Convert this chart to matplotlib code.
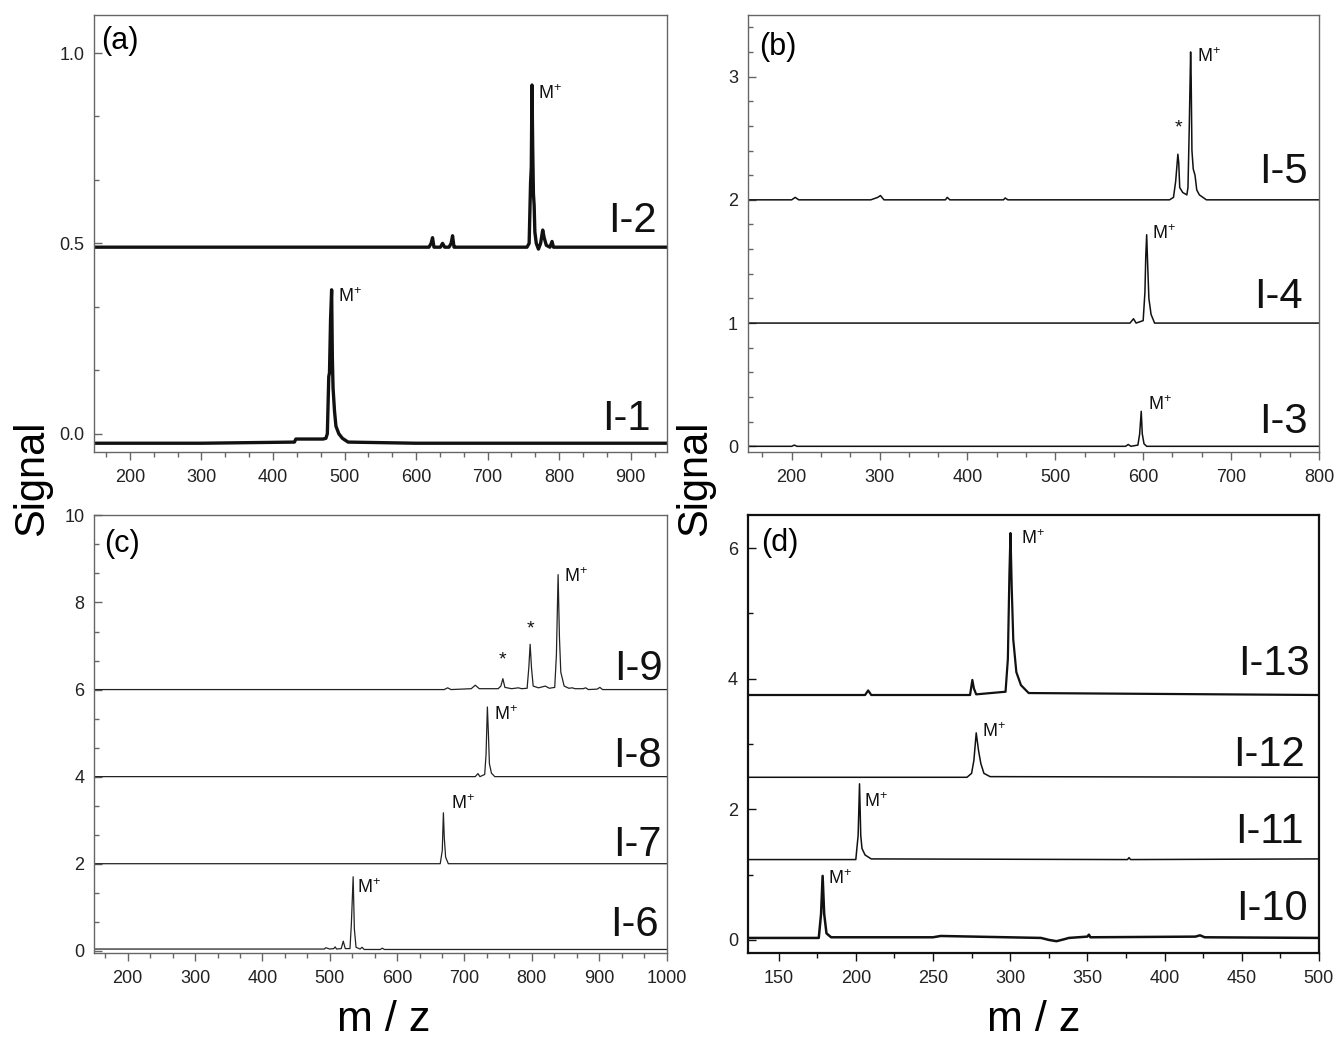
import matplotlib
matplotlib.use("Agg")
import matplotlib.pyplot as plt
from matplotlib.ticker import MultipleLocator, AutoMinorLocator, FormatStrFormatter

plt.rcParams['font.family'] = ['Liberation Sans', 'DejaVu Sans']
plt.rcParams['mathtext.default'] = 'regular'

# ---- panel (a) ----
a_i1_x = [150, 300, 430, 432, 470, 474, 476, 478, 479, 480.5, 482, 483, 484, 486, 488, 492, 497, 505, 600, 950]
a_i1_y = [-0.025, -0.025, -0.022, -0.014, -0.014, -0.012, 0.0, 0.15, 0.16, 0.30, 0.378, 0.2, 0.12, 0.06, 0.02, 0.0, -0.012, -0.022, -0.025, -0.025]
a_i2_x = [150, 618, 621, 623, 625, 634, 637, 640, 646, 649, 651, 653, 656, 755, 758, 760, 761, 762, 763, 764, 765,
          766, 768, 771, 774, 777, 779, 782, 787, 790, 792, 800, 950]
a_i2_y = [0.49, 0.49, 0.50, 0.515, 0.49, 0.49, 0.50, 0.49, 0.49, 0.50, 0.52, 0.49, 0.49, 0.49, 0.50, 0.66, 0.70, 0.916,
          0.75, 0.63, 0.60, 0.53, 0.50, 0.485, 0.50, 0.535, 0.515, 0.495, 0.49, 0.505, 0.49, 0.49, 0.49]

# ---- panel (b) ----
b_i3_x = [150, 200, 203, 206, 580, 583, 586, 594, 596, 597.8, 599, 601, 604, 800]
b_i3_y = [0, 0, 0.01, 0, 0, 0.015, 0, 0.01, 0.1, 0.284, 0.1, 0.02, 0, 0]
b_i4_x = [150, 585, 589, 592, 600, 602, 603, 604, 605, 606.5, 609, 613, 800]
b_i4_y = [1, 1, 1.035, 1, 1.02, 1.25, 1.55, 1.717, 1.5, 1.2, 1.07, 1.0, 1.0]
b_i5_x = [150, 200, 204, 208, 290, 298, 301, 305, 375, 377, 380, 441, 443, 446, 630, 634.5, 637, 639.5, 640.5,
          641.6, 645, 649.7, 651, 652.5, 653.5, 654, 654.6, 655.5, 657, 659, 661, 664, 672, 800]
b_i5_y = [2.0, 2.0, 2.02, 2.0, 2.0, 2.02, 2.035, 2.0, 2.0, 2.02, 2.0, 2.0, 2.015, 2.0, 2.0, 2.02, 2.15, 2.37, 2.3,
          2.1, 2.06, 2.04, 2.1, 2.6, 3.0, 3.2, 3.0, 2.4, 2.25, 2.2, 2.08, 2.04, 2.0, 2.0]

# ---- panel (c) ----
c_i6_x = [150, 480, 492, 494, 500, 506, 508, 510, 517, 520, 523, 530, 532, 534.7, 536.5, 539, 545, 548, 551, 575,
          578, 581, 1000]
c_i6_y = [0.04, 0.04, 0.04, 0.07, 0.04, 0.05, 0.09, 0.04, 0.05, 0.22, 0.05, 0.05, 0.6, 1.7, 0.5, 0.08, 0.04, 0.08,
          0.03, 0.03, 0.06, 0.03, 0.03]
c_i7_x = [150, 664, 667, 668.7, 670, 672, 676, 1000]
c_i7_y = [2, 2, 2.3, 3.17, 2.6, 2.15, 2.0, 2.0]
c_i8_x = [150, 716, 720, 723, 730, 732, 734, 735.5, 737, 740, 745, 1000]
c_i8_y = [4, 4, 4.07, 4, 4.05, 4.5, 5.6, 5.0, 4.3, 4.08, 4.0, 4.0]
c_i9_x = [150, 670, 675, 680, 710, 716, 722, 750, 754, 757, 760, 770, 780, 785, 793, 795.5, 797.5, 799.5, 802, 810,
          820, 826, 834, 836.5, 839, 841, 843, 848, 855, 860, 864, 876, 880, 884, 897, 901, 905, 1000]
c_i9_y = [6, 6, 6.04, 6, 6.02, 6.1, 6.02, 6.02, 6.08, 6.25, 6.05, 6.02, 6.04, 6.02, 6.03, 6.5, 7.04, 6.5, 6.08, 6.04,
          6.08, 6.03, 6.05, 6.8, 8.64, 7.2, 6.4, 6.08, 6.03, 6.04, 6.02, 6.02, 6.04, 6.0, 6.01, 6.05, 6.0, 6.0]

# ---- panel (d) ----
d_i10_x = [130, 176, 177.5, 178.5, 179.5, 181, 184, 250, 255, 320, 325, 330, 335, 338, 350, 351, 352, 420, 423, 426, 500]
d_i10_y = [0.03, 0.03, 0.4, 0.98, 0.4, 0.1, 0.04, 0.04, 0.06, 0.03, 0.0, -0.02, 0.01, 0.03, 0.05, 0.08, 0.04, 0.05,
           0.07, 0.04, 0.03]
d_i11_x = [130, 200, 201.5, 202.4, 203.2, 204, 206, 210, 376, 377, 378, 500]
d_i11_y = [1.23, 1.23, 1.6, 2.39, 1.6, 1.4, 1.3, 1.24, 1.23, 1.26, 1.23, 1.24]
d_i12_x = [130, 272, 275, 276.5, 278, 279.5, 281, 283, 287, 500]
d_i12_y = [2.49, 2.49, 2.55, 2.75, 3.17, 2.9, 2.7, 2.55, 2.5, 2.49]
d_i13_x = [130, 206, 208, 210, 274, 275.5, 276.5, 278, 297, 298.5, 299.5, 300.2, 301, 302, 304, 307, 312, 500]
d_i13_y = [3.75, 3.75, 3.82, 3.75, 3.75, 3.98, 3.85, 3.76, 3.8, 4.3, 5.6, 6.23, 5.4, 4.6, 4.1, 3.9, 3.78, 3.75]

# labels: (text, x_right, baseline)
a_names = [("I-2", 937, 0.53), ("I-1", 928, 0.01)]
a_mplus = [(771, 0.88), (491, 0.346)]
b_names = [("I-5", 787, 2.135), ("I-4", 782, 1.12), ("I-3", 787, 0.108)]
b_mplus = [(661, 3.12), (610.6, 1.68), (605, 0.297)]
b_stars = [(640.6, 2.58)]
c_names = [("I-9", 995, 6.22), ("I-8", 992, 4.22), ("I-7", 992, 2.17), ("I-6", 989, 0.35)]
c_mplus = [(848.5, 8.46), (744, 5.29), (679.7, 3.25), (541, 1.33)]
c_stars = [(757, 6.67), (797.6, 7.4)]
d_names = [("I-13", 494, 4.06), ("I-12", 491, 2.67), ("I-11", 490, 1.48), ("I-10", 493, 0.3)]
d_mplus = [(307, 6.07), (281.8, 3.1), (205.4, 2.04), (182.3, 0.86)]

fig = plt.figure(figsize=(13.36, 10.4), dpi=100)
ax_a = fig.add_axes([0.0704, 0.5654, 0.4285, 0.4202])
ax_b = fig.add_axes([0.5597, 0.5654, 0.4275, 0.4202])
ax_c = fig.add_axes([0.0704, 0.0837, 0.4285, 0.4207])
ax_d = fig.add_axes([0.5597, 0.0837, 0.4275, 0.4207])


def setup(ax, xlim, ylim, xstep, xminor, ystep, yminor, frame_col, frame_lw, yfmt=None):
    ax.set_xlim(*xlim)
    ax.set_ylim(*ylim)
    ax.xaxis.set_major_locator(MultipleLocator(xstep))
    ax.xaxis.set_minor_locator(AutoMinorLocator(xminor))
    ax.yaxis.set_major_locator(MultipleLocator(ystep))
    ax.yaxis.set_minor_locator(AutoMinorLocator(yminor))
    if yfmt:
        ax.yaxis.set_major_formatter(FormatStrFormatter(yfmt))
    for s in ax.spines.values():
        s.set_color(frame_col)
        s.set_linewidth(frame_lw)
    ax.tick_params(axis='x', which='both', direction='out', colors=frame_col, labelcolor='#222222',
                   labelsize=13, pad=6)
    ax.tick_params(axis='y', which='both', direction='in', colors=frame_col, labelcolor='#222222',
                   labelsize=13, pad=7)
    ax.tick_params(which='major', length=6, width=1)
    ax.tick_params(which='minor', length=3.5, width=1)


def labels(ax, names, mplus, stars=()):
    for name, xr, yb in names:
        ax.text(xr, yb, name, ha='right', va='baseline', fontsize=30, color='#111111')
    for xm, ym in mplus:
        ax.text(xm, ym, r'M$^{+}$', ha='left', va='baseline', fontsize=13, color='#111111')
    for xs, ys in stars:
        ax.text(xs, ys, '*', ha='center', va='center', fontsize=14, color='#111111')


# (a)
ax_a.plot(a_i2_x, a_i2_y, color='#111111', lw=2.4)
ax_a.plot(a_i1_x, a_i1_y, color='#111111', lw=2.4)
setup(ax_a, (150, 950), (-0.048, 1.10), 100, 3, 0.5, 3, '#666666', 1.0, '%.1f')
labels(ax_a, a_names, a_mplus)
ax_a.text(0.013, 0.975, '(a)', transform=ax_a.transAxes, ha='left', va='top', fontsize=22)

# (b)
for xs, ys in [(b_i5_x, b_i5_y), (b_i4_x, b_i4_y), (b_i3_x, b_i3_y)]:
    ax_b.plot(xs, ys, color='#111111', lw=1.1)
setup(ax_b, (150, 800), (-0.046, 3.5), 100, 3, 1, 5, '#666666', 1.0)
labels(ax_b, b_names, b_mplus, b_stars)
ax_b.text(0.02, 0.962, '(b)', transform=ax_b.transAxes, ha='left', va='top', fontsize=22)

# (c)
for xs, ys in [(c_i9_x, c_i9_y), (c_i8_x, c_i8_y), (c_i7_x, c_i7_y), (c_i6_x, c_i6_y)]:
    ax_c.plot(xs, ys, color='#222222', lw=0.9)
setup(ax_c, (150, 1000), (-0.05, 10), 100, 3, 2, 3, '#666666', 1.0)
labels(ax_c, c_names, c_mplus, c_stars)
ax_c.text(0.017, 0.97, '(c)', transform=ax_c.transAxes, ha='left', va='top', fontsize=22)

# (d)
ax_d.plot(d_i13_x, d_i13_y, color='#111111', lw=1.6)
ax_d.plot(d_i12_x, d_i12_y, color='#111111', lw=1.1)
ax_d.plot(d_i11_x, d_i11_y, color='#111111', lw=1.1)
ax_d.plot(d_i10_x, d_i10_y, color='#111111', lw=1.8)
setup(ax_d, (130, 500), (-0.2, 6.5), 50, 2, 2, 2, '#111111', 1.6)
labels(ax_d, d_names, d_mplus)
ax_d.text(0.024, 0.972, '(d)', transform=ax_d.transAxes, ha='left', va='top', fontsize=22)

# shared axis titles
fig.text(32 / 1336, 1 - 478 / 1040, 'Signal', rotation=90, ha='center', va='center', fontsize=30)
fig.text(695 / 1336, 1 - 478 / 1040, 'Signal', rotation=90, ha='center', va='center', fontsize=30)
fig.text(384 / 1336, 1 - 1031 / 1040, 'm / z', ha='center', va='baseline', fontsize=31)
fig.text(1034 / 1336, 1 - 1031 / 1040, 'm / z', ha='center', va='baseline', fontsize=31)

fig.savefig('out.png', dpi=100)
